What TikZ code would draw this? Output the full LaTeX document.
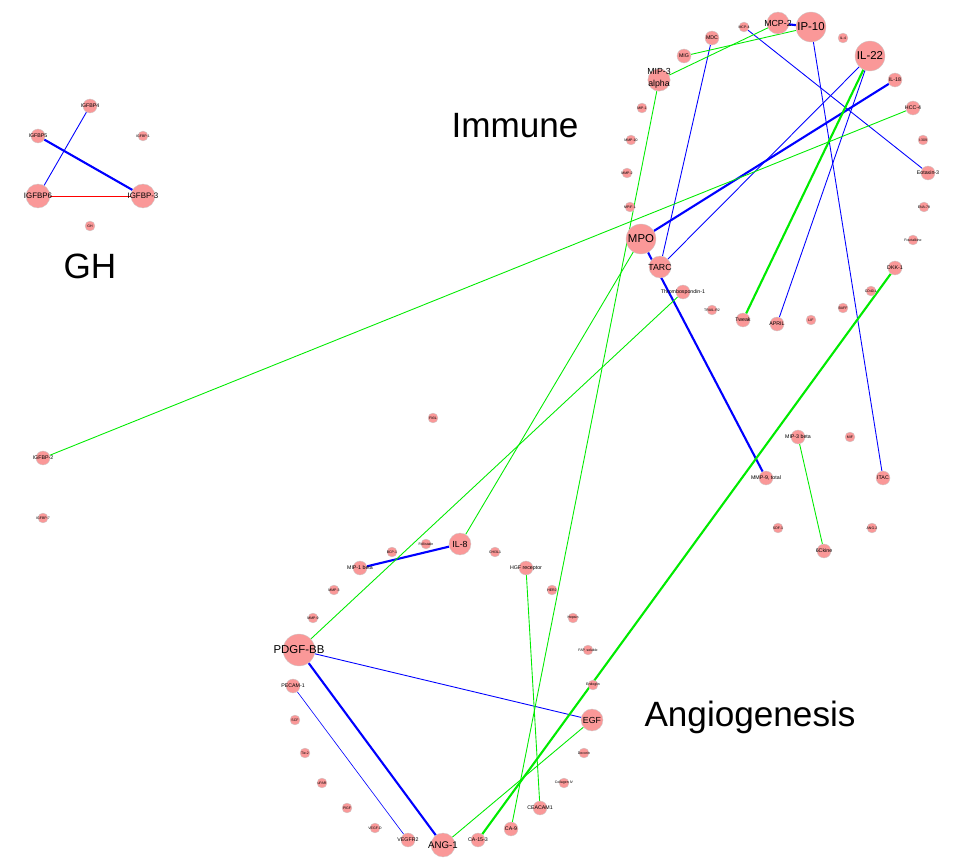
\documentclass[tikz,border=0pt]{standalone}
\usepackage{fontspec}
\setmainfont{Liberation Sans}
\usetikzlibrary{backgrounds}
\definecolor{nodepink}{RGB}{250,152,152}
\definecolor{netgreen}{RGB}{0,235,0}

\begin{document}
\begin{tikzpicture}[x=0.02cm, y=-0.02cm]
    \tikzset{
        bub/.style={circle, fill=nodepink, draw=black!20, line width=0.2pt,
            inner sep=0pt, minimum size={#1*0.04cm}, text=black,
            execute at begin node={\hbox to 0pt\bgroup\hss},
            execute at end node={\hss\egroup}},
        tiny/.style={bub=5, font=\fontsize{2}{2}\selectfont},
        small/.style={bub=7, font=\fontsize{3}{3}\selectfont},
        mid/.style={bub=11, font=\fontsize{5}{5.5}\selectfont},
        big/.style={bub=15, font=\fontsize{6.5}{7}\selectfont},
        thin/.style={line width=0.5pt},
        thick/.style={line width=1.2pt},
        lab/.style={font=\fontsize{20}{20}\selectfont},
    }
    \useasboundingbox (0,0) rectangle (968,868);

    % GH group
    \node[small] (igfbp4) at (90,106) {IGFBP4};
    \node[small] (igfbp5) at (38,136) {IGFBP5};
    \node[tiny] (igfbp1) at (143,136) {IGFBP-1};
    \node[bub=12, font=\fontsize{4.5}{5}\selectfont] (igfbp6) at (38,196) {IGFBP6};
    \node[bub=12, font=\fontsize{4.5}{5}\selectfont] (igfbp3) at (143,196) {IGFBP-3};
    \node[tiny] (gh) at (90,226) {GH};
    \node[lab] at (90,266) {GH};

    % Immune group
    \node[tiny] (mcp4) at (744,27) {MCP-4};
    \node[mid] (mcp2) at (778,23) {MCP-2};
    \node[big] (ip10) at (811,27) {IP-10};
    \node[tiny] (il4) at (843,38) {IL-4};
    \node[big] (il22) at (870,56) {IL-22};
    \node[small] (mdc) at (712,38) {MDC};
    \node[small] (mig) at (684,56) {MIG};
    \node[mid] (mip3a) at (659,80) {\raisebox{2.6pt}{\shortstack{MIP-3\\alpha}}};
    \node[small] (il18) at (895,80) {IL-18};
    \node[tiny] (mip1a) at (642,108) {MIP-1};
    \node[small] (hcc4) at (913,108) {HCC-4};
    \node[tiny] (mmp10) at (631,140) {MMP-10};
    \node[tiny] (i309) at (923,140) {I-309};
    \node[tiny] (mmp2) at (627,173) {MMP-2};
    \node[small] (eot3) at (928,173) {Eotaxin-3};
    \node[tiny] (mpif) at (630,207) {MPIF-1};
    \node[tiny] (ena78) at (924,207) {ENA-78};
    \node[tiny] (frac) at (913,240) {Fractalkine};
    \node[big] (mpo) at (641,239) {MPO};
    \node[mid] (tarc) at (660,267) {TARC};
    \node[small] (tsp1) at (683,292) {Thrombospondin-1};
    \node[small] (dkk1) at (895,268) {DKK-1};
    \node[tiny] (cd40l) at (871,291) {CD40-L};
    \node[tiny] (trail) at (712,310) {TRAIL-R2};
    \node[small] (tweak) at (743,320) {Tweak};
    \node[small] (april) at (777,324) {APRIL};
    \node[tiny] (lif) at (811,320) {LIF};
    \node[tiny] (baff) at (843,308) {BAFF};
    \node[lab] at (515,126) {Immune};

    % free nodes in the middle
    \node[tiny] (flt3l) at (433,418) {Flt3L};
    \node[small] (igfbp2) at (43,458) {IGFBP-2};
    \node[tiny] (igfbp7) at (43,518) {IGFBP-7};
    \node[small] (mip3b) at (798,437) {MIP-3 beta};
    \node[tiny] (mif) at (850,437) {MIF};
    \node[small] (mmp9) at (766,478) {MMP-9, total};
    \node[small] (itac) at (883,478) {ITAC};
    \node[tiny] (sdf1) at (778,528) {SDF-1};
    \node[tiny] (ang2) at (872,528) {ANG-2};
    \node[small] (ckine) at (824,551) {6Ckine};

    % Angiogenesis group
    \node[mid] (il8) at (460,544) {IL-8};
    \node[tiny] (follist) at (426,544) {Follistatin};
    \node[tiny] (bcp) at (392,552) {BCP-1};
    \node[small] (mip1b) at (360,568) {MIP-1 beta};
    \node[tiny] (chi3) at (495,552) {CHI3L1};
    \node[small] (hgfr) at (526,568) {HGF receptor};
    \node[tiny] (mmp3) at (334,590) {MMP-3};
    \node[tiny] (her2) at (552,590) {HER2};
    \node[tiny] (mmp9b) at (313,618) {MMP-9};
    \node[tiny] (hepsin) at (573,618) {Hepsin};
    \node[bub=16, font=\fontsize{6.5}{7}\selectfont] (pdgfbb) at (299,650) {PDGF-BB};
    \node[tiny] (fap) at (588,650) {FAP, soluble};
    \node[small] (pecam) at (293,686) {PECAM-1};
    \node[tiny] (endo) at (593,685) {Endoglin};
    \node[mid] (egf) at (592,720) {EGF};
    \node[tiny] (scf) at (295,720) {SCF};
    \node[tiny] (tie2) at (305,753) {Tie-2};
    \node[tiny] (decorin) at (584,753) {Decorin};
    \node[tiny] (upar) at (322,783) {uPAR};
    \node[tiny] (col4) at (564,783) {Collagen IV};
    \node[tiny] (pigf) at (347,808) {PlGF};
    \node[small] (ceacam) at (540,808) {CEACAM1};
    \node[tiny] (vegfd) at (375,828) {VEGF-D};
    \node[small] (vegfr2) at (408,840) {VEGFR2};
    \node[bub=12, font=\fontsize{5.5}{6}\selectfont] (ang1) at (443,845) {ANG-1};
    \node[small] (ca153) at (478,840) {CA-15-3};
    \node[small] (ca9) at (511,829) {CA-9};
    \node[lab] at (750,717) {Angiogenesis};

    % Edges
    \begin{scope}[on background layer]
        \draw[red, thin] (igfbp6) -- (igfbp3);
        \draw[blue, thin] (igfbp4) -- (igfbp6);
        \draw[blue, thick] (igfbp5) -- (igfbp3);

        \draw[blue, thick] (mcp2) -- (ip10);
        \draw[blue, thin] (mcp4) -- (eot3);
        \draw[blue, thin] (ip10) -- (itac);
        \draw[blue, thin] (il22) -- (tarc);
        \draw[blue, thick] (il18) -- (mpo);
        \draw[blue, thin] (mdc) -- (tarc);
        \draw[blue, thin] (il22) -- (april);
        \draw[blue, thick] (mpo) -- (mmp9);
        \draw[blue, thick] (il8) -- (mip1b);
        \draw[blue, thin] (pdgfbb) -- (egf);
        \draw[blue, thick] (pdgfbb) -- (ang1);
        \draw[blue, line width=0.35pt] (pecam) -- (vegfr2);

        \draw[netgreen, thin] (mcp2) -- (mip3a);
        \draw[netgreen, thin] (ip10) -- (mig);
        \draw[netgreen, thin] (mip3a) -- (ca9);
        \draw[netgreen, thin] (il8) -- (mpo);
        \draw[netgreen, thin] (hcc4) -- (igfbp2);
        \draw[netgreen, thick] (il22) -- (tweak);
        \draw[netgreen, thin] (tsp1) -- (pdgfbb);
        \draw[netgreen, thick] (dkk1) -- (ca153);
        \draw[netgreen, thin] (mip3b) -- (ckine);
        \draw[netgreen, thin] (hgfr) -- (ceacam);
        \draw[netgreen, thin] (egf) -- (ang1);
    \end{scope}
\end{tikzpicture}
\end{document}
